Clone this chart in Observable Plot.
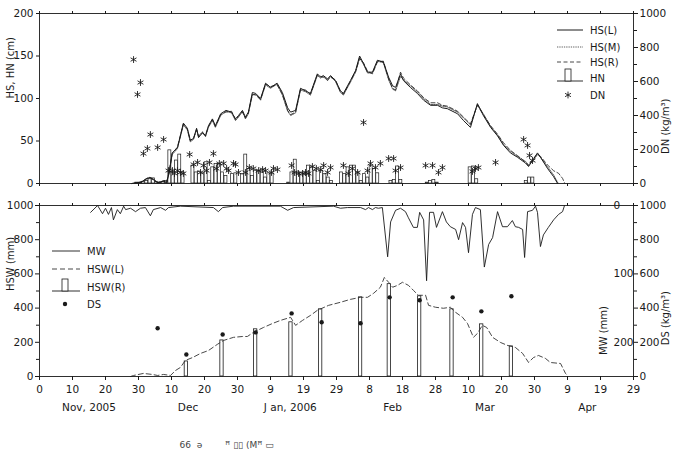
<!DOCTYPE html>
<html><head><meta charset="utf-8">
<script src="https://cdn.jsdelivr.net/npm/d3@7"></script>
<script src="https://cdn.jsdelivr.net/npm/@observablehq/plot@0.6"></script>
<style>
body{margin:0;background:#fff;}
#chart{position:relative;width:675px;height:456px;font-family:"DejaVu Sans",sans-serif;background:#fff;}
#chart svg{position:absolute;left:0;}
</style></head><body><div id="chart"></div>
<script>
// x axis: days since 31 Oct 2005
const xTicks = [0,10,20,30,40,50,60,70,80,90,100,110,120,130,140,150,160,170,180];
const xTickLabels = ["0","10","20","30","10","20","30","9","19","29","8","18","28","10","20","30","9","19","29"];
const monthDays = [15,45,76,107,135,166];
const monthLabels = ["Nov, 2005","Dec","J an, 2006","Feb","Mar","Apr"];
const hsTicks = [0,50,100,150,200];
const dnTicks = [0,200,400,600,800,1000];
const dnMinor = [100,300,500,700,900];
const hswTicks = [0,200,400,600,800,1000];
const hswMinor = [100,300,500,700,900];
const mwTicks = [0,100,200];

// HS snow depth (cm) [day, value]
const hsL = [[28,0],[30,1],[31,2],[32.5,6],[33.5,7],[34.5,5],[35.8,1],[36.7,2],[37.6,3],[38.5,1],
[39.3,13],[40.2,36],[41.8,42],[43.6,71],[44.8,65],[45.7,51],[46.7,53],[47.6,65],[48.2,54],[49.4,60],[50.3,56],[51.2,68],[52.4,76],[53.3,68],[54.9,82],[56.5,86],[58.2,84],[59.4,76],[60.3,80],[61.5,86],[62.4,78],[63.3,84],[64.5,107],[65.5,106],[67,100],[68.5,118],[70,113],[72,118],[73.6,107],[75.2,89],[76.1,84],[77.6,86],[79.1,112],[80.6,109],[82.1,106],[84.2,129],[85.2,125],[86,127],[87.3,123],[88.2,127],[89.7,121],[91.2,109],[92.1,106],[94.2,121],[95.8,133],[97,150],[98.2,141],[99.4,131],[100.9,131],[102.4,145],[104.2,143],[105.8,125],[107,115],[107.9,113],[109.4,129],[110.3,121],[112.4,113],[114.5,106],[116.4,98],[118.5,92],[120.6,92],[122.1,89],[123.6,88],[126.7,82],[128.5,74],[130.6,66],[132.7,94],[134.5,80],[136.7,66],[138.8,56],[140.6,45],[142.7,36],[144.8,31],[147.3,24],[148.2,20],[149.4,27],[150.9,36],[151.8,31],[153.9,18],[155.8,8],[157,0]];
const hsM = [[28,0],[30,1],[31,2],[32.5,5],[33.5,7],[34.5,5],[35.8,1],[36.7,2],[37.6,3],[38.5,1],
[39.3,12],[40.2,34],[41.8,41],[43.6,69],[44.8,63],[45.7,49],[46.7,52],[47.6,64],[48.2,56],[49.4,61],[50.3,55],[51.2,66],[52.4,74],[53.3,66],[54.9,80],[56.5,85],[58.2,83],[59.4,74],[60.3,78],[61.5,85],[62.4,76],[63.3,82],[64.5,104],[65.5,105],[67,98],[68.5,116],[70,112],[72,117],[73.6,104],[75.2,85],[76.1,80],[77.6,83],[79.1,110],[80.6,108],[82.1,104],[84.2,127],[85.2,124],[86,126],[87.3,121],[88.2,126],[89.7,120],[91.2,107],[92.1,104],[94.2,119],[95.8,131],[97,148],[98.2,140],[99.4,130],[100.9,130],[102.4,144],[104.2,142],[105.8,122],[107,111],[107.9,109],[109.4,126],[110.3,122],[112.4,115],[114.5,108],[116.4,100],[118.5,93],[120.6,93],[122.1,91],[123.6,90],[126.7,84],[128.5,77],[130.6,69],[132.7,93],[134.5,82],[136.7,67],[138.8,57],[140.6,46],[142.7,38],[144.8,32],[147.3,26],[148.2,22],[149.4,26],[150.9,34],[151.8,31],[153.9,20],[155.8,10],[157.2,0]];
const hsR = [[28,0],[30,1],[31,2],[32.5,6],[33.5,7],[34.5,4],[35.8,1],[36.7,2],[37.6,3],[38.5,1],
[39.3,14],[40.2,35],[41.8,43],[43.6,70],[44.8,64],[45.7,50],[46.7,54],[47.6,63],[48.2,55],[49.4,59],[50.3,57],[51.2,67],[52.4,75],[53.3,67],[54.9,81],[56.5,84],[58.2,85],[59.4,75],[60.3,79],[61.5,84],[62.4,77],[63.3,83],[64.5,105],[65.5,104],[67,99],[68.5,117],[70,114],[72,116],[73.6,105],[75.2,86],[76.1,81],[77.6,84],[79.1,111],[80.6,110],[82.1,105],[84.2,128],[85.2,126],[86,125],[87.3,122],[88.2,125],[89.7,122],[91.2,108],[92.1,105],[94.2,120],[95.8,132],[97,147],[98.2,142],[99.4,132],[100.9,129],[102.4,143],[104.2,144],[105.8,123],[107,112],[107.9,110],[109.4,131],[110.3,124],[112.4,116],[114.5,109],[116.4,101],[118.5,95],[120.6,95],[122.1,92],[123.6,91],[126.7,85],[128.5,78],[130.6,70],[132.7,92],[134.5,81],[136.7,68],[138.8,58],[140.6,48],[142.7,39],[144.8,33],[147.3,25],[148.2,21],[149.4,28],[150.9,35],[151.8,32],[153.9,22],[155.8,15],[157.3,12],[158.5,6],[159.2,0]];

// HN new snow (cm) [day, value]
const hn = [[29,1],[30,1],[31,2],[32,3],[33,5],[34,6],[35,2],[36,1],[37,2],[38,3],
[39,39],[40,13],[41,27],[42,34],[43,13],[46,21],[47,13],[48,14],[49,12],[50,25],[51,3],[52,19],[53,23],[54,23],[55,13],[56,9],[58,11],[59,12],[61,11],[62,34],[63,17],[64,9],[65,15],[66,15],[67,13],[68,7],[69,12],[70,12],[75,1],[76,13],[77,28],[78,13],[79,12],[80,11],[81,21],[82,19],[83,15],[84,3],[85,15],[86,11],[87,7],[88,3],[91,13],[92,11],[93,19],[94,21],[95,21],[96,13],[97,3],[98,11],[99,7],[100,21],[101,17],[102,12],[106,3],[107,4],[108,20],[109,4],[117,1],[118,3],[119,4],[120,1],[130,19],[131,20],[132,5],[147,3],[148,7],[149,7]];

// DN new snow density (kg/m3) [day, value]
const dn = [[28.5,729],[29.7,524],[30.6,594],[31.5,176],[32.7,206],[33.6,288],[35.8,212],[37.6,259],
[39.1,76],[40.3,76],[40.9,59],[41.8,76],[42.7,65],[43.6,59],[45.5,171],[46.7,112],[47.9,124],[48.8,65],[49.7,106],[50.6,76],[51.5,124],[52.7,176],[53.6,88],[54.5,118],[55.8,118],[56.7,88],[57.3,76],[58.8,118],[59.4,112],[60.3,65],[62.4,65],[63.6,94],[64.8,88],[66.4,76],[67.6,82],[68.5,76],[70.3,65],[70.9,88],[72.1,82],[76.4,106],[77.3,65],[78.5,59],[79.7,59],[80.6,65],[81.5,59],[82.7,100],[83.9,88],[85.2,82],[86.1,106],[87.3,65],[88.2,94],[92.1,106],[93.6,59],[94.8,88],[96.4,65],[98.2,359],[99.4,76],[100.3,118],[101.8,94],[103.3,118],[105.8,147],[107.3,147],[107.9,76],[109.4,94],[117,106],[119.1,106],[120.9,65],[122.1,94],[131.2,71],[132.1,88],[133,94],[138.2,124],[146.7,259],[147.9,224],[148.5,165],[149.4,135]];

// MW (mm) [day, value]
const mw = [[15.5,10],[17.6,0],[19.1,12],[20,4],[20.9,13],[21.8,3],[22.4,21],[23.6,6],[24.5,12],[25.5,1],[26.1,6],[27.6,4],[29.1,9],[30.6,4],[32.1,3],[33.6,15],[34.5,6],[36.7,3],[38.2,7],[39.1,3],[42.7,1],[52.7,3],[54.2,9],[55.5,3],[58.8,1],[73,1],[75.2,7],[77,3],[89.1,1],[91.2,4],[93.3,3],[97.3,3],[98.8,6],[99.7,3],[100.9,6],[101.8,3],[102.7,4],[103.9,3],[105.5,75],[106.4,24],[107.9,7],[109.4,4],[110.9,9],[111.8,18],[113.3,32],[114.5,32],[115.2,10],[116.4,21],[117.3,110],[118.2,10],[119.4,10],[120.3,32],[122.1,9],[123.3,24],[124.5,31],[126.1,35],[127,50],[128.2,25],[129.1,32],[130,69],[131.2,13],[132.1,3],[133.6,6],[134.8,90],[136.1,57],[137.3,47],[138.8,9],[140.3,31],[141.8,31],[143.3,22],[144.2,31],[145.2,32],[146.4,35],[147,76],[147.9,9],[149.4,7],[150.3,1],[150.9,10],[151.8,60],[152.7,43],[154.2,32],[155.8,21],[157.3,13],[158.5,9],[159.1,0]];

// HSW(L) snow water equivalent (mm) [day, value]
const hswL = [[27.6,0],[28.5,6],[31.5,18],[34.2,12],[35.8,6],[37.6,12],[39.7,6],[41.2,35],[42.7,53],[44.2,94],[46.4,111],[48.8,135],[51.2,152],[53.9,188],[55.8,211],[58.8,229],[61.5,234],[63,234],[64.8,258],[67.9,287],[70.6,310],[73,328],[76.1,346],[77.6,299],[79.7,328],[82.1,357],[84.2,387],[87.6,416],[91.2,434],[94.2,451],[97.3,463],[99.4,463],[101.2,486],[103.3,522],[104.5,579],[105.8,551],[107,522],[108.5,533],[110,551],[111.8,533],[113.3,504],[114.8,475],[117,475],[117.9,416],[120,405],[122.4,399],[124.5,405],[126.1,375],[128.2,346],[129.7,310],[131.5,229],[132.7,252],[134.2,299],[135.5,287],[137.3,229],[139.7,199],[141.8,182],[144.2,170],[146.4,135],[148.2,82],[149.7,111],[151.2,123],[153.3,106],[154.8,82],[157.9,76],[159.4,18],[160,6]];

// HSW(R) (mm) [day, value]
const hswR = [[44.5,88],[55.3,211],[65.5,276],[76.2,317],[85.2,393],[97.3,463],[106,540],[115.2,469],[125,393],[134,305],[143,176]];

// DS snow density (kg/m3) [day, value]
const ds = [[35.8,282],[44.5,129],[55.5,246],[65.5,258],[76.4,369],[85.5,317],[97.3,311],[106.1,463],[115.2,446],[125.2,463],[133.9,381],[143,469]];

const caption = ["66  ə        ꟸ ▯▯ (Mꟸ ▭"];

const INK = "#1a1a1a";
const baseStyle = {fontFamily:"DejaVu Sans", fontSize:"10.5px", color:INK, background:"transparent", overflow:"visible"};
const blank = () => "";
const plain = d => String(d);

const topPlot = Plot.plot({
  width:675, height:200, marginLeft:39, marginRight:42, marginTop:13, marginBottom:17,
  x:{domain:[0,180]}, y:{domain:[0,200]},
  style: baseStyle,
  marks: [
    Plot.axisX(xTicks, {anchor:"bottom", tickSize:3, tickFormat:blank, label:null}),
    Plot.axisX(xTicks, {anchor:"top", tickSize:3, tickFormat:blank, label:null}),
    Plot.axisY(hsTicks, {anchor:"left", tickSize:3, tickPadding:3, tickFormat:plain, label:null}),
    Plot.axisY(dnTicks.map(d=>d/5), {anchor:"right", tickSize:4, tickPadding:2, tickFormat:d=>String(Math.round(d*5)), label:null}),
    Plot.axisY(dnMinor.map(d=>d/5), {anchor:"right", tickSize:3, tickFormat:blank, label:null}),
    Plot.rect(hn, {x1:d=>d[0]+0.05, x2:d=>d[0]+0.95, y1:0, y2:d=>d[1], fill:"white", stroke:INK, strokeWidth:0.7}),
    Plot.line(hsR, {x:d=>d[0], y:d=>d[1], stroke:INK, strokeWidth:0.8, strokeDasharray:"4,2.5"}),
    Plot.line(hsM, {x:d=>d[0], y:d=>d[1], stroke:INK, strokeWidth:0.7, strokeDasharray:"1.3,1"}),
    Plot.line(hsL, {x:d=>d[0], y:d=>d[1], stroke:INK, strokeWidth:1}),
    Plot.dot(dn, {x:d=>d[0], y:d=>d[1]/5, symbol:"asterisk", r:3.2, stroke:INK, strokeWidth:0.9}),
    Plot.frame({stroke:INK, strokeWidth:0.9}),
    Plot.text(["HS, HN (cm)"], {text:d=>d, frameAnchor:"left", dx:-29, rotate:-90, fontSize:10}),
    Plot.text(["DN (kg/m³)"], {text:d=>d, frameAnchor:"right", dx:32, rotate:-90, fontSize:10})
  ]
});

const botPlot = Plot.plot({
  width:675, height:266, marginLeft:39, marginRight:42, marginTop:15, marginBottom:80,
  x:{domain:[0,180]}, y:{domain:[0,1000]},
  style: baseStyle,
  marks: [
    Plot.axisX(xTicks, {anchor:"bottom", tickSize:4, tickPadding:5, tickFormat:d=>xTickLabels[Math.round(d/10)], label:null}),
    Plot.axisX(xTicks, {anchor:"top", tickSize:3, tickFormat:blank, label:null}),
    Plot.axisY(hswTicks, {anchor:"left", tickSize:4, tickPadding:2, tickFormat:plain, label:null}),
    Plot.axisY(hswMinor, {anchor:"left", tickSize:3, tickFormat:blank, label:null}),
    Plot.axisY(hswTicks, {anchor:"right", tickSize:4, tickPadding:2, tickFormat:plain, label:null}),
    Plot.axisY(hswMinor, {anchor:"right", tickSize:3, tickFormat:blank, label:null}),
    Plot.text(mwTicks, {frameAnchor:"right", y:d=>1000-4*d, text:d=>String(d), dx:-20, textAnchor:"start"}),
    Plot.rect(hswR, {x1:d=>d[0]-0.5, x2:d=>d[0]+0.5, y1:0, y2:d=>d[1], fill:"white", stroke:INK, strokeWidth:0.8}),
    Plot.line(hswL, {x:d=>d[0], y:d=>d[1], stroke:"#333", strokeWidth:0.9, strokeDasharray:"5,3"}),
    Plot.line(mw, {x:d=>d[0], y:d=>1000-4*d[1], stroke:INK, strokeWidth:0.9}),
    Plot.dot(ds, {x:d=>d[0], y:d=>d[1], r:2.2, fill:INK}),
    Plot.frame({stroke:INK, strokeWidth:0.9}),
    Plot.text(monthLabels, {x:(d,i)=>monthDays[i], y:0, dy:31, text:d=>d, fontSize:10.5}),
    Plot.text(caption, {text:d=>d, frameAnchor:"bottom-left", dx:140, dy:71, textAnchor:"start", fontSize:9, fill:"#444"}),
    Plot.text(["HSW (mm)"], {text:d=>d, frameAnchor:"left", dx:-29, rotate:-90, fontSize:10}),
    Plot.text(["MW (mm)"], {text:d=>d, frameAnchor:"right", dx:-30, dy:15, rotate:-90, fontSize:10}),
    Plot.text(["DS (kg/m³)"], {text:d=>d, frameAnchor:"right", dx:32, rotate:-90, fontSize:10})
  ]
});

const chart = document.getElementById("chart");
topPlot.style.top = "0px";
botPlot.style.top = "190px";
chart.appendChild(topPlot);
chart.appendChild(botPlot);

// legends
function legend(svg, items) {
  const g = d3.select(svg).append("g").attr("font-family","DejaVu Sans").attr("font-size",10)
    .attr("fill",INK).attr("text-anchor","start");
  for (const it of items) {
    if (it.type === "line") {
      g.append("line").attr("x1",557).attr("x2",583).attr("y1",it.y).attr("y2",it.y)
        .attr("stroke",it.stroke||INK).attr("stroke-width",it.w||1).attr("stroke-dasharray",it.dash||null);
    } else if (it.type === "bar") {
      g.append("line").attr("x1",it.x1).attr("x2",it.x2).attr("y1",it.y).attr("y2",it.y).attr("stroke",INK).attr("stroke-width",0.9);
      g.append("rect").attr("x",it.rx).attr("y",it.y-12).attr("width",6).attr("height",12).attr("fill","white").attr("stroke",INK).attr("stroke-width",0.8);
    } else if (it.type === "star") {
      g.append("path").attr("d", d3.symbol(d3.symbolAsterisk, Math.PI*3.2*3.2)()).attr("transform",`translate(${it.x},${it.y})`).attr("stroke",INK).attr("stroke-width",0.9).attr("fill","none");
    } else if (it.type === "dot") {
      g.append("circle").attr("cx",it.x).attr("cy",it.y).attr("r",2.2).attr("fill",INK);
    } else if (it.type === "seg") {
      g.append("line").attr("x1",it.x1).attr("x2",it.x2).attr("y1",it.y).attr("y2",it.y)
        .attr("stroke",it.stroke||INK).attr("stroke-width",it.w||1).attr("stroke-dasharray",it.dash||null);
    }
    g.append("text").attr("x",it.tx).attr("y",it.ty).attr("text-anchor","start").text(it.label);
  }
}
legend(topPlot, [
  {type:"line", y:30, w:1, label:"HS(L)", tx:590, ty:33.5},
  {type:"line", y:47, w:0.7, dash:"1.3,1", label:"HS(M)", tx:590, ty:50.5},
  {type:"line", y:62, w:0.8, dash:"4,2.5", label:"HS(R)", tx:590, ty:65.5},
  {type:"bar", x1:557, x2:583, rx:565, y:81, label:"HN", tx:590, ty:81.5},
  {type:"star", x:568, y:95, label:"DN", tx:590, ty:98.5}
]);
legend(botPlot, [
  {type:"seg", x1:52, x2:80, y:61, w:0.9, label:"MW", tx:87, ty:64.5},
  {type:"seg", x1:52, x2:80, y:79, w:0.9, stroke:"#333", dash:"5,3", label:"HSW(L)", tx:87, ty:82.5},
  {type:"bar", x1:52, x2:80, rx:62, y:101, label:"HSW(R)", tx:87, ty:100.5},
  {type:"dot", x:65, y:114, label:"DS", tx:87, ty:117.5}
]);
</script></body></html>
